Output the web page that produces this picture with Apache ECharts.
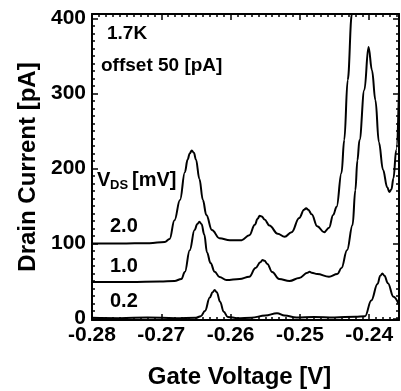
<!DOCTYPE html>
<html>
<head>
<meta charset="utf-8">
<script src="https://cdn.jsdelivr.net/npm/echarts@6/dist/echarts.min.js"></script>
<style>
html, body { margin: 0; padding: 0; background: #fff; }
#chart { width: 401px; height: 391px; }
</style>
</head>
<body>
<div id="chart"></div>
<script>
// V_DS = 2.0 mV trace (offset +100 pA)
const gate20 = [-0.2800, -0.2760, -0.2717, -0.2695, -0.2688, -0.2681, -0.2673, -0.2666, -0.2662, -0.2659,
  -0.2656, -0.2653, -0.2650, -0.2645, -0.2640, -0.2635, -0.2627, -0.2616, -0.2601, -0.2584,
  -0.2573, -0.2565, -0.2561, -0.2558, -0.2555, -0.2551, -0.2544, -0.2532, -0.2522, -0.2512,
  -0.2501, -0.2494, -0.2491, -0.2488, -0.2483, -0.2475, -0.2465, -0.2458, -0.2452, -0.2447,
  -0.2440, -0.2436, -0.2431, -0.2425, -0.2420];
const drain20 = [100, 100, 100.5, 102, 106, 131, 158, 195, 212, 220,
  224, 221, 212, 186, 158, 138, 118, 107, 104.5, 104.5,
  111, 125, 133, 137, 136, 132, 124, 113, 109, 115,
  134, 145, 147, 145, 139, 123, 115, 121, 138, 149,
  194, 238, 318, 406, 478];

// V_DS = 1.0 mV trace (offset +50 pA)
const gate10 = [-0.2800, -0.2745, -0.2702, -0.2681, -0.2671, -0.2666, -0.2659, -0.2652, -0.2648, -0.2645,
  -0.2642, -0.2638, -0.2634, -0.2629, -0.2623, -0.2616, -0.2606, -0.2587, -0.2573, -0.2564,
  -0.2557, -0.2554, -0.2551, -0.2547, -0.2540, -0.2530, -0.2515, -0.2501, -0.2489, -0.2486,
  -0.2483, -0.2475, -0.2458, -0.2446, -0.2440, -0.2432, -0.2424, -0.2420, -0.2417, -0.2414,
  -0.2407, -0.2401, -0.2396, -0.2391, -0.2386, -0.2380, -0.2374, -0.2371, -0.2368, -0.2365,
  -0.2361, -0.2357];
const drain10 = [48.7, 48.7, 49.3, 50, 52.7, 62, 91, 118, 126, 129,
  126, 112, 88, 74, 62.4, 55.3, 51.3, 52.7, 55.7, 67.3,
  75, 78, 77, 72.7, 62, 52.7, 50, 54, 61, 62.4,
  61, 59.3, 55.7, 59.3, 67.3, 91, 124.7, 171, 211, 238,
  304.7, 362, 331, 291, 235, 198, 175, 168.7, 172, 187,
  224.7, 304.7];

// V_DS = 0.2 mV trace (no offset)
const gate02 = [-0.2800, -0.2760, -0.2720, -0.2680, -0.2650, -0.2643, -0.2637, -0.2630, -0.2626, -0.2623,
  -0.2620, -0.2615, -0.2610, -0.2604, -0.2590, -0.2570, -0.2550, -0.2533, -0.2522, -0.2505,
  -0.2480, -0.2450, -0.2420, -0.2406, -0.2397, -0.2388, -0.2384, -0.2381, -0.2378, -0.2373,
  -0.2365, -0.2357];
const drain02 = [1, 0.5, 1.5, 0.5, 1, 3, 10, 28, 35, 38,
  35, 22, 9, 2, 0.5, 1, 4, 7, 4, 1.5,
  2, 1.5, 2.5, 3, 24, 46, 57, 60, 57, 47,
  29, 18];

const xTickLabels = [-0.28, -0.27, -0.26, -0.25, -0.24];
const yTickLabels = [0, 100, 200, 300, 400];

const xMin = -0.28, xMax = -0.2357;
const yMin = -2, yMax = 406;

// minor tick positions (every 0.001 V and every 10 pA)
const xMinor = [];
for (let i = 0; i <= 44; i++) xMinor.push(+(-0.28 + i * 0.001).toFixed(3));
const yMinor = [];
for (let i = 0; i <= 40; i++) yMinor.push(i * 10);

const FONT = '"Liberation Sans", Arial, sans-serif';

function zip(xs, ys) {
  return xs.map((x, i) => [x, ys[i]]);
}

function frameAxis(position, min, max, ticks, len, showLine, extra) {
  return Object.assign({
    type: 'value',
    position: position,
    min: min,
    max: max,
    axisLine: { show: showLine, onZero: false, lineStyle: { color: '#000', width: 2 } },
    axisTick: { show: true, inside: true, length: len, customValues: ticks,
      lineStyle: { color: '#000', width: 1.5 } },
    axisLabel: { show: false },
    splitLine: { show: false }
  }, extra || {});
}

const tickLabelStyle = { fontSize: 21, fontWeight: 'bold', color: '#000', fontFamily: FONT };
const titleStyle = { fontSize: 24, fontWeight: 'bold', color: '#000', fontFamily: FONT };

const chart = echarts.init(document.getElementById('chart'));

chart.setOption({
  animation: false,
  backgroundColor: '#fff',
  grid: { left: 92, top: 14, width: 307, height: 306, containLabel: false, outerBoundsMode: 'none' },
  xAxis: [
    frameAxis('bottom', xMin, xMax, xTickLabels, 6, true, {
      axisLabel: Object.assign({ show: true, customValues: xTickLabels, margin: 5,
        formatter: v => v.toFixed(2) }, tickLabelStyle),
      name: 'Gate Voltage [V]',
      nameLocation: 'middle',
      nameGap: 45,
      nameTextStyle: Object.assign({ padding: [0, 12, 0, 0] }, titleStyle)
    }),
    frameAxis('bottom', xMin, xMax, xMinor, 3, false),
    frameAxis('top', xMin, xMax, xTickLabels, 6, true),
    frameAxis('top', xMin, xMax, xMinor, 3, false)
  ],
  yAxis: [
    frameAxis('left', yMin, yMax, yTickLabels, 6, true, {
      axisLabel: Object.assign({ show: true, customValues: yTickLabels, margin: 6 }, tickLabelStyle),
      name: 'Drain Current [pA]',
      nameLocation: 'middle',
      nameGap: 46,
      nameTextStyle: titleStyle
    }),
    frameAxis('left', yMin, yMax, yMinor, 3, false),
    frameAxis('right', yMin, yMax, yTickLabels, 6, true),
    frameAxis('right', yMin, yMax, yMinor, 3, false)
  ],
  series: [
    { name: '2.0', data: zip(gate20, drain20) },
    { name: '1.0', data: zip(gate10, drain10) },
    { name: '0.2', data: zip(gate02, drain02) }
  ].map(s => Object.assign({
    type: 'line',
    xAxisIndex: 0,
    yAxisIndex: 0,
    showSymbol: false,
    smooth: 0.4,
    smoothMonotone: 'x',
    clip: true,
    lineStyle: { color: '#000', width: 2 }
  }, s)),
  graphic: [
    { type: 'text', left: 107, top: 24, style: { text: '1.7K', font: 'bold 19px ' + FONT, fill: '#000' } },
    { type: 'text', left: 101, top: 56, style: { text: 'offset 50 [pA]', font: 'bold 19px ' + FONT, fill: '#000' } },
    { type: 'text', left: 97, top: 170, style: { text: 'V', font: 'bold 20px ' + FONT, fill: '#000' } },
    { type: 'text', left: 110, top: 179, style: { text: 'DS', font: 'bold 13px ' + FONT, fill: '#000' } },
    { type: 'text', left: 132, top: 170, style: { text: '[mV]', font: 'bold 20px ' + FONT, fill: '#000' } },
    { type: 'text', left: 110, top: 216, style: { text: '2.0', font: 'bold 20px ' + FONT, fill: '#000' } },
    { type: 'text', left: 110, top: 256, style: { text: '1.0', font: 'bold 20px ' + FONT, fill: '#000' } },
    { type: 'text', left: 110, top: 291, style: { text: '0.2', font: 'bold 20px ' + FONT, fill: '#000' } }
  ]
});
</script>
</body>
</html>
